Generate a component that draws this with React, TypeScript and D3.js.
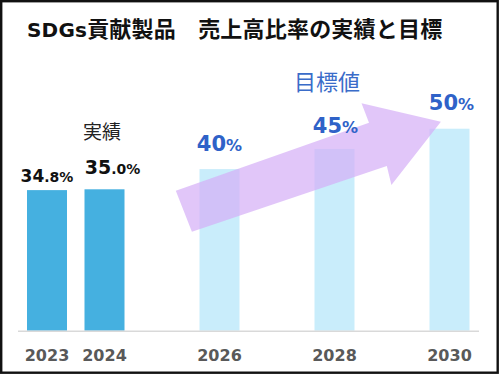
import React from 'react';
import * as d3 from 'd3';

const years = [2023, 2024, 2026, 2028, 2030];
const values = [34.8, 35.0, 40, 45, 50];
const kinds = ['actual', 'actual', 'target', 'target', 'target'];
const mainLabels = ['34', '35', '40', '45', '50'];
const subLabels = ['.8%', '.0%', '%', '%', '%'];

const W = 500;
const H = 375;

const App = () => {
  const x = d3.scaleLinear().domain([2023, 2030]).range([47, 449.5]);
  const y = d3.scaleLinear().domain([0, 50]).range([330.7, 128.7]);
  const barW = 40;

  // trend arrow, in data space (year, percent)
  const arrowPts: [number, number][] = [
    [2025.24, 34.65], [2028.6, 51.5], [2028.47, 56.3], [2029.85, 51.73],
    [2028.99, 36.06], [2028.91, 40.77], [2025.52, 24.5],
  ];
  const arrowLine = d3.line<[number, number]>()
    .x((d) => x(d[0]))
    .y((d) => y(d[1]));

  const labelDx = [0, 8, 0, 1, 2];
  const labelGap = [8, 15, 18, 16, 18.7];

  return (
    <svg width={W} height={H} style={{position: 'absolute', left: 0, top: 0, background: '#fff'}}>
      <rect x={1.2} y={1.2} width={496.5} height={371.5} fill="#fff" stroke="#111" strokeWidth={2.4}/>
      <text x={27} y={37} fontFamily="'Noto Sans CJK JP'" fontWeight="bold" fontSize={22}
        fill="#111" letterSpacing={0.2}>
        <tspan fontFamily="'DejaVu Sans'" fontSize={20}>SDGs</tspan>貢献製品　売上高比率の実績と目標
      </text>

      {years.map((yr, i) => (
        <rect key={yr} x={x(yr) - barW / 2} y={y(values[i])} width={barW}
          height={y(0) - y(values[i])}
          fill={kinds[i] === 'actual' ? '#45B0E0' : '#C9EDFB'}/>
      ))}

      <line x1={18} x2={479} y1={y(0) + 0.5} y2={y(0) + 0.5} stroke="#d9d9d9" strokeWidth={1.5}/>

      <path d={arrowLine(arrowPts) + 'Z'} fill="#D4AEF7" opacity={0.7}/>

      {years.map((yr, i) => {
        const actual = kinds[i] === 'actual';
        const big = actual ? (i === 0 ? 17 : 19) : 21;
        const small = actual ? 14 : 16;
        return (
          <text key={'l' + yr} x={x(yr) + labelDx[i]} y={y(values[i]) - labelGap[i]}
            textAnchor="middle" fontFamily="'DejaVu Sans'" fontWeight="bold"
            fill={actual ? '#111' : '#2F62C8'}>
            <tspan fontSize={big}>{mainLabels[i]}</tspan>
            <tspan fontSize={small}>{subLabels[i]}</tspan>
          </text>
        );
      })}

      <text x={102} y={139} textAnchor="middle" fontFamily="'Noto Sans CJK JP'" fontSize={19}
        fill="#222">実績</text>
      <text x={327} y={90} textAnchor="middle" fontFamily="'Noto Sans CJK JP'" fontSize={22}
        fill="#3A6CC9">目標値</text>

      {years.map((yr) => (
        <text key={'y' + yr} x={x(yr)} y={361} textAnchor="middle" fontFamily="'DejaVu Sans'"
          fontWeight="bold" fontSize={16} fill="#595959">{yr}</text>
      ))}
    </svg>
  );
};

export default App;
